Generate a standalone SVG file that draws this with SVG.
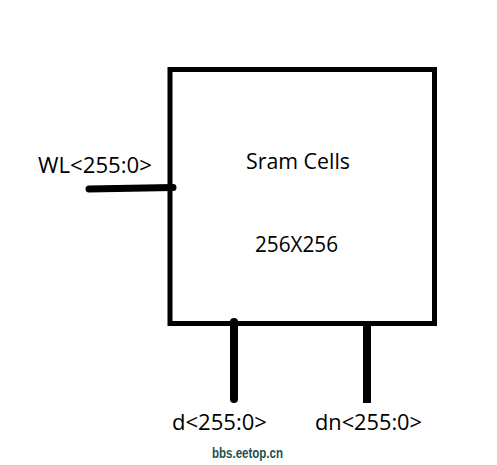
<svg xmlns="http://www.w3.org/2000/svg" width="497" height="465" viewBox="0 0 497 465">
<style>
.lbl{font-family:"Open Sans","Liberation Sans",sans-serif;font-size:21px;fill:#000}
.wire{stroke:#000;fill:none}
</style>
<rect width="497" height="465" fill="#fff"/>
<g id="sram">
<rect x="170" y="69.5" width="264.5" height="254" fill="none" stroke="#000" stroke-width="5"/>
<text class="lbl" x="246" y="169" font-size="19" textLength="104" lengthAdjust="spacingAndGlyphs">Sram Cells</text>
<text class="lbl" x="255" y="252" font-size="19" textLength="83" lengthAdjust="spacingAndGlyphs">256X256</text>
</g>
<g id="connectors">
<line class="wire" x1="89" y1="189" x2="173" y2="187.5" stroke-width="7" stroke-linecap="round"/>
<line class="wire" x1="234" y1="322" x2="234" y2="399" stroke-width="8" stroke-linecap="round"/>
<line class="wire" x1="367" y1="322" x2="367" y2="403" stroke-width="8"/>
</g>
<g id="wl">
<text class="lbl" x="38" y="173" textLength="114" lengthAdjust="spacingAndGlyphs">WL&lt;255:0&gt;</text>
</g>
<g id="d">
<text class="lbl" x="172" y="430" textLength="95" lengthAdjust="spacingAndGlyphs">d&lt;255:0&gt;</text>
</g>
<g id="dn">
<text class="lbl" x="315" y="430" textLength="107" lengthAdjust="spacingAndGlyphs">dn&lt;255:0&gt;</text>
</g>
<text x="212" y="458" font-family="Liberation Sans,sans-serif" font-weight="bold" font-size="15" fill="#1f4f50" textLength="71" lengthAdjust="spacingAndGlyphs">bbs.eetop.cn</text>
</svg>
